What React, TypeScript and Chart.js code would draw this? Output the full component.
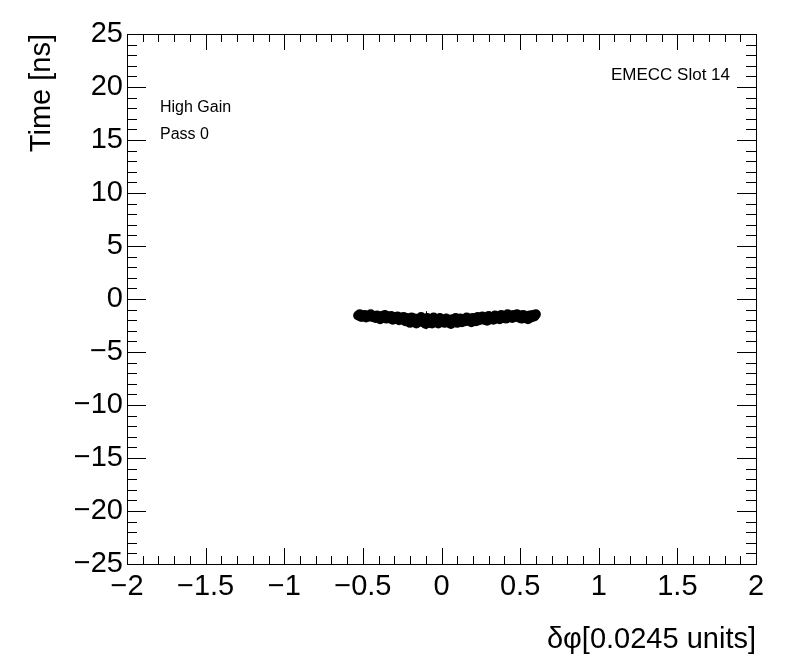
import React, { useEffect, useRef } from "react";
import { Chart, registerables } from "chart.js";

Chart.register(...registerables);

const xValues = [
  -0.53, -0.52, -0.51, -0.5, -0.49, -0.48, -0.47, -0.46, -0.45, -0.44,
  -0.43, -0.42, -0.41, -0.4, -0.39, -0.38, -0.37, -0.36, -0.35, -0.34,
  -0.33, -0.32, -0.31, -0.3, -0.29, -0.28, -0.27, -0.26, -0.25, -0.24,
  -0.23, -0.22, -0.21, -0.2, -0.19, -0.18, -0.17, -0.16, -0.15, -0.14,
  -0.13, -0.12, -0.11, -0.1, -0.09, -0.08, -0.07, -0.06, -0.05, -0.04,
  -0.03, -0.02, -0.01, 0.0, 0.01, 0.02, 0.03, 0.04, 0.05, 0.06,
  0.07, 0.08, 0.09, 0.1, 0.11, 0.12, 0.13, 0.14, 0.15, 0.16,
  0.17, 0.18, 0.19, 0.2, 0.21, 0.22, 0.23, 0.24, 0.25, 0.26,
  0.27, 0.28, 0.29, 0.3, 0.31, 0.32, 0.33, 0.34, 0.35, 0.36,
  0.37, 0.38, 0.39, 0.4, 0.41, 0.42, 0.43, 0.44, 0.45, 0.46,
  0.47, 0.48, 0.49, 0.5, 0.51, 0.52, 0.53, 0.54, 0.55, 0.56,
  0.57, 0.58, 0.59, 0.6,
];
const timeValues = [
  -1.55, -1.45, -1.7, -1.6, -1.5, -1.75, -1.55, -1.65, -1.45, -1.7,
  -1.6, -1.8, -1.55, -1.7, -1.9, -1.6, -1.75, -1.5, -1.85, -1.65,
  -1.8, -1.6, -1.95, -1.7, -1.85, -1.65, -2.0, -1.75, -1.9, -1.7,
  -2.1, -1.8, -1.95, -2.25, -1.75, -2.05, -1.85, -2.3, -1.9, -2.1,
  -1.7, -2.2, -1.95, -2.35, -1.8, -2.1, -1.9, -2.3, -1.75, -2.15,
  -1.95, -2.3, -1.8, -2.1, -2.0, -2.25, -1.85, -2.2, -1.95, -2.35,
  -1.9, -2.15, -1.8, -2.25, -2.0, -1.85, -2.2, -1.9, -2.1, -1.75,
  -2.05, -1.85, -2.2, -1.8, -1.95, -2.1, -1.7, -2.0, -1.85, -1.65,
  -1.95, -1.75, -2.05, -1.6, -1.85, -1.7, -1.95, -1.55, -1.8, -1.65,
  -1.9, -1.5, -1.75, -1.6, -1.85, -1.45, -1.7, -1.55, -1.8, -1.5,
  -1.65, -1.45, -1.75, -1.55, -1.85, -1.5, -1.7, -1.6, -1.9, -1.55,
  -1.75, -1.5, -1.65, -1.45,
];
// the few error bars that stick out of the marker band
const errX = [-0.1, -0.08, 0.03];
const errY = [-2.0, -2.1, -1.9];
const errSize = [0.85, 0.6, 0.5];

const xMin = -2, xMax = 2, xMajor = 0.5, xMinor = 0.1;
const yMin = -25, yMax = 25, yMajor = 5, yMinor = 1;
const xTitle = "δφ[0.0245 units]";
const yTitle = "Time [ns]";
const labelsLeft = ["High Gain", "Pass 0"];
const labelRight = "EMECC Slot 14";

const FONT = "'Liberation Sans', Arial, Helvetica, sans-serif";

const rootPlugin = {
  id: "rootStyle",
  afterDatasetsDraw(chart: any) {
    const ctx = chart.ctx;
    const xs = chart.scales.x;
    const ys = chart.scales.y;
    ctx.save();
    ctx.strokeStyle = "#000";
    ctx.lineWidth = 1;
    for (let i = 0; i < errX.length; i++) {
      const px = Math.round(xs.getPixelForValue(errX[i])) + 0.5;
      ctx.beginPath();
      ctx.moveTo(px, ys.getPixelForValue(errY[i] + errSize[i]));
      ctx.lineTo(px, ys.getPixelForValue(errY[i] - errSize[i]));
      ctx.stroke();
    }
    ctx.restore();
  },
  afterDraw(chart: any) {
    const ctx = chart.ctx;
    const xs = chart.scales.x;
    const ys = chart.scales.y;
    const a = chart.chartArea;
    ctx.save();
    ctx.strokeStyle = "#000";
    ctx.lineWidth = 1;
    ctx.strokeRect(Math.round(a.left) + 0.5, Math.round(a.top) + 0.5, Math.round(a.right - a.left), Math.round(a.bottom - a.top));
    ctx.beginPath();
    const nx = Math.round((xMax - xMin) / xMinor);
    for (let i = 0; i <= nx; i++) {
      const v = xMin + i * xMinor;
      const major = i % Math.round(xMajor / xMinor) === 0;
      const px = Math.round(xs.getPixelForValue(v)) + 0.5;
      const l = major ? 16 : 8;
      ctx.moveTo(px, a.bottom);
      ctx.lineTo(px, a.bottom - l);
      ctx.moveTo(px, a.top);
      ctx.lineTo(px, a.top + l);
    }
    const ny = Math.round((yMax - yMin) / yMinor);
    for (let i = 0; i <= ny; i++) {
      const v = yMin + i * yMinor;
      const major = i % Math.round(yMajor / yMinor) === 0;
      const py = Math.round(ys.getPixelForValue(v)) + 0.5;
      const l = major ? 19 : 10;
      ctx.moveTo(a.left, py);
      ctx.lineTo(a.left + l, py);
      ctx.moveTo(a.right, py);
      ctx.lineTo(a.right - l, py);
    }
    ctx.stroke();

    ctx.fillStyle = "#000";
    ctx.font = `29px ${FONT}`;
    ctx.textAlign = "right";
    ctx.textBaseline = "alphabetic";
    ctx.fillText(xTitle, a.right, 648);
    ctx.save();
    ctx.translate(50, a.top);
    ctx.rotate(-Math.PI / 2);
    ctx.textAlign = "right";
    ctx.fillText(yTitle, 0, 0);
    ctx.restore();

    ctx.font = `16px ${FONT}`;
    ctx.textAlign = "left";
    ctx.textBaseline = "middle";
    ctx.fillText(labelsLeft[0], 160, 108);
    ctx.fillText(labelsLeft[1], 160, 135);
    ctx.font = `17px ${FONT}`;
    ctx.textAlign = "right";
    ctx.fillText(labelRight, 730, 75);
    ctx.restore();
  },
};

const fmt = (v: number) => {
  const s = String(Math.round(v * 100) / 100);
  return s.replace("-", "\u2212");
};

export default function App() {
  const ref = useRef<HTMLCanvasElement | null>(null);
  useEffect(() => {
    document.body.style.margin = "0";
    const canvas = ref.current!;
    const chart = new Chart(canvas, {
      type: "scatter",
      data: {
        datasets: [
          {
            data: xValues.map((x, i) => ({ x, y: timeValues[i] })),
            backgroundColor: "#000",
            borderColor: "#000",
            pointRadius: 5,
            pointBorderWidth: 0,
          },
        ],
      },
      options: {
        animation: false,
        responsive: false,
        devicePixelRatio: 1,
        layout: { padding: { left: 0, top: 34, right: 40, bottom: 0 } },
        plugins: { legend: { display: false }, tooltip: { enabled: false } },
        scales: {
          x: {
            type: "linear",
            min: xMin,
            max: xMax,
            afterFit: (s: any) => { s.height = 108; },
            afterBuildTicks: (s: any) => {
              const t = [];
              for (let v = xMin; v <= xMax + 1e-9; v += xMajor) t.push({ value: Math.round(v * 100) / 100 });
              s.ticks = t;
            },
            grid: { display: false, drawTicks: false },
            border: { display: false },
            ticks: {
              color: "#000",
              font: { family: FONT, size: 29 },
              padding: 6,
              maxRotation: 0,
              autoSkip: false,
              callback: (v: any) => fmt(Number(v)),
            },
          },
          y: {
            type: "linear",
            min: yMin,
            max: yMax,
            afterFit: (s: any) => { s.width = 127; },
            afterBuildTicks: (s: any) => {
              const t = [];
              for (let v = yMin; v <= yMax + 1e-9; v += yMajor) t.push({ value: v });
              s.ticks = t;
            },
            grid: { display: false, drawTicks: false },
            border: { display: false },
            ticks: {
              color: "#000",
              font: { family: FONT, size: 29 },
              padding: 4,
              autoSkip: false,
              callback: (v: any) => fmt(Number(v)),
            },
          },
        },
      },
      plugins: [rootPlugin],
    });
    return () => chart.destroy();
  }, []);
  return (
    <div style={{ position: "absolute", left: 0, top: 0, width: 796, height: 672, background: "#fff" }}>
      <canvas ref={ref} width={796} height={672} style={{ width: 796, height: 672 }} />
    </div>
  );
}
